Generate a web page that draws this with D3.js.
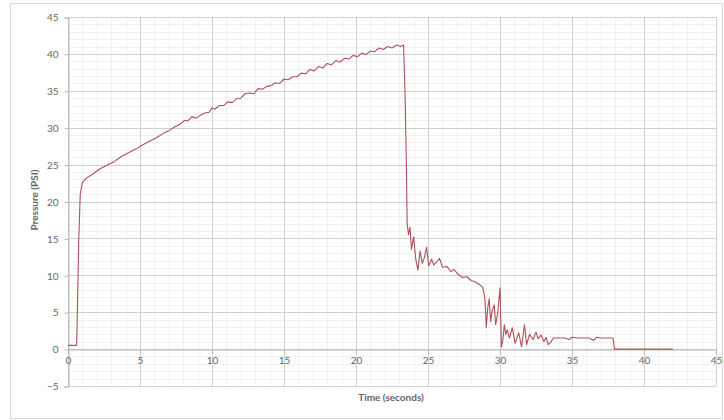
<!DOCTYPE html>
<html>
<head>
<meta charset="utf-8">
<script src="https://cdn.jsdelivr.net/npm/d3@7"></script>
<style>
  body { margin: 0; background: #fff; }
  svg text { font-family: Lato, "Open Sans", sans-serif; fill: #666; }
</style>
</head>
<body>
<div class="graph"></div>
<script>
// time (s) and pressure (PSI)
var time = [0, 0.6, 0.65, 0.75, 0.85, 1.0, 1.3, 1.7, 2.2, 2.7, 3.2, 3.7, 4.2, 4.7, 5.2, 5.7, 6.2, 6.6, 7.0, 7.4,
  7.8, 8.1, 8.3, 8.6, 8.9, 9.2, 9.5, 9.8, 10.0, 10.2, 10.5, 10.8, 11.1, 11.4, 11.7, 12.0, 12.3, 12.6, 12.9, 13.2,
  13.5, 13.8, 14.1, 14.4, 14.7, 15.0, 15.3, 15.6, 15.9, 16.2, 16.5, 16.8, 17.1, 17.4, 17.7, 18.0, 18.3, 18.6, 18.9, 19.2,
  19.5, 19.8, 20.1, 20.4, 20.7, 21.0, 21.3, 21.6, 21.9, 22.2, 22.5, 22.8, 23.1, 23.3, 23.4, 23.5, 23.55, 23.65, 23.75, 23.85,
  24.0, 24.15, 24.3, 24.45, 24.6, 24.75, 24.9, 25.05, 25.25, 25.4, 25.6, 25.8, 26.0, 26.3, 26.6, 26.8, 27.1, 27.4, 27.7, 28.0,
  28.3, 28.6, 28.8, 28.95, 29.05, 29.15, 29.25, 29.35, 29.45, 29.6, 29.7, 29.85, 30.0, 30.1, 30.2, 30.3, 30.4, 30.5, 30.65, 30.85,
  31.05, 31.3, 31.5, 31.7, 31.85, 32.05, 32.3, 32.5, 32.65, 32.85, 33.05, 33.2, 33.35, 33.55, 33.7, 34.5, 34.8, 35.0, 35.4, 36.2,
  36.5, 36.7, 37.0, 37.85, 37.95, 42];
var psi = [0.5, 0.5, 5, 15, 21, 22.6, 23.2, 23.7, 24.4, 24.9, 25.4, 26.1, 26.6, 27.1, 27.7, 28.2, 28.7, 29.2, 29.6, 30.1,
  30.5, 31.0, 30.9, 31.5, 31.3, 31.7, 32.0, 32.1, 32.7, 32.5, 33.0, 33.0, 33.5, 33.4, 33.9, 34.0, 34.6, 34.7, 34.6, 35.3,
  35.2, 35.6, 35.7, 36.1, 36.0, 36.6, 36.5, 36.9, 36.9, 37.4, 37.3, 37.9, 37.7, 38.3, 38.1, 38.7, 38.5, 39.1, 38.9, 39.4,
  39.3, 39.8, 39.6, 40.1, 39.9, 40.4, 40.3, 40.8, 40.6, 41.0, 40.8, 41.2, 41.0, 41.2, 35, 25, 17, 15.5, 16.5, 13.5,
  15.2, 12.2, 10.7, 13.3, 11.6, 12.4, 13.8, 11.3, 12.2, 11.4, 11.8, 12.3, 11.1, 11.2, 10.5, 10.8, 10.1, 9.7, 9.8, 9.3,
  9.1, 8.7, 8.4, 6.9, 2.9, 5.6, 6.8, 3.7, 5.2, 6.0, 3.3, 5.0, 8.3, 0.3, 1.2, 3.3, 2.0, 2.6, 1.5, 2.9,
  0.8, 2.2, 0.3, 3.3, 0.6, 2.0, 1.3, 2.3, 1.4, 1.9, 1.0, 1.6, 0.6, 1.0, 1.5, 1.5, 1.3, 1.6, 1.5, 1.5,
  1.2, 1.6, 1.5, 1.5, 0, 0];

var xTicks = [0, 5, 10, 15, 20, 25, 30, 35, 40, 45];
var yTicks = [-5, 0, 5, 10, 15, 20, 25, 30, 35, 40, 45];
var xTitle = "Time (seconds)";
var yTitle = "Pressure (PSI)";

const w = 724;
const h = 420;

const xScale = d3.scaleLinear().domain([0, 45]).range([68, 716]);
const yScale = d3.scaleLinear().domain([-5, 45]).range([386, 17]);

const svg = d3.select(".graph")
  .append("svg")
  .attr("width", w)
  .attr("height", h);

// chart frame
svg.append("rect")
  .attr("x", 10.5).attr("y", 3.5)
  .attr("width", 712).attr("height", 415)
  .attr("fill", "#fff")
  .attr("stroke", "#d9d9d9");

// minor gridlines every 1 unit
var minorX = d3.range(0, 46).filter(function(d) { return d % 5 !== 0; });
var minorY = d3.range(-5, 46).filter(function(d) { return d % 5 !== 0; });

svg.append("g").selectAll("line")
  .data(minorX).enter().append("line")
  .attr("x1", (d) => Math.round(xScale(d)) + 0.5)
  .attr("x2", (d) => Math.round(xScale(d)) + 0.5)
  .attr("y1", yScale(45)).attr("y2", yScale(-5))
  .attr("stroke", "#f0f0f0");

svg.append("g").selectAll("line")
  .data(minorY).enter().append("line")
  .attr("y1", (d) => Math.round(yScale(d)) + 0.5)
  .attr("y2", (d) => Math.round(yScale(d)) + 0.5)
  .attr("x1", xScale(0)).attr("x2", xScale(45))
  .attr("stroke", "#f0f0f0");

// major gridlines
svg.append("g").selectAll("line")
  .data(xTicks).enter().append("line")
  .attr("x1", (d) => Math.round(xScale(d)) + 0.5)
  .attr("x2", (d) => Math.round(xScale(d)) + 0.5)
  .attr("y1", yScale(45)).attr("y2", yScale(-5))
  .attr("stroke", "#d0d0d0");

svg.append("g").selectAll("line")
  .data(yTicks).enter().append("line")
  .attr("y1", (d) => Math.round(yScale(d)) + 0.5)
  .attr("y2", (d) => Math.round(yScale(d)) + 0.5)
  .attr("x1", xScale(0)).attr("x2", xScale(45))
  .attr("stroke", "#d0d0d0");

// axes: y on the left edge, x crossing at 0
const yAxis = d3.axisLeft(yScale).tickValues(yTicks).tickSize(4).tickPadding(6);
const xAxis = d3.axisBottom(xScale).tickValues(xTicks).tickSize(4).tickPadding(3);

const gy = svg.append("g")
  .attr("transform", "translate(" + (Math.round(xScale(0)) + 0.5) + ",0.5)")
  .call(yAxis);
const gx = svg.append("g")
  .attr("transform", "translate(0," + (Math.round(yScale(0)) + 0.5) + ")")
  .call(xAxis);

[gx, gy].forEach(function(g) {
  g.select(".domain").attr("stroke", "#b8b8b8");
  g.selectAll(".tick line").attr("stroke", "#b8b8b8");
  g.selectAll(".tick text").style("font-size", "10px").attr("fill", "#6e6e6e");
});

// the pressure trace
var dataset = time.map(function(t, i) { return [t, psi[i]]; });

svg.append("path")
  .datum(dataset)
  .attr("fill", "none")
  .attr("stroke", "#b0505a")
  .attr("stroke-width", 1.1)
  .attr("stroke-linejoin", "round")
  .attr("d", d3.line().x((d) => xScale(d[0])).y((d) => yScale(d[1])));

// axis titles
svg.append("text")
  .attr("x", 391)
  .attr("y", 401)
  .attr("fill", "#555")
  .style("text-anchor", "middle")
  .style("font-size", "10px")
  .style("font-weight", "bold")
  .text(xTitle);

svg.append("text")
  .attr("transform", "translate(38,200) rotate(-90)")
  .attr("fill", "#555")
  .style("text-anchor", "middle")
  .style("font-size", "10px")
  .style("font-weight", "bold")
  .text(yTitle);
</script>
</body>
</html>
